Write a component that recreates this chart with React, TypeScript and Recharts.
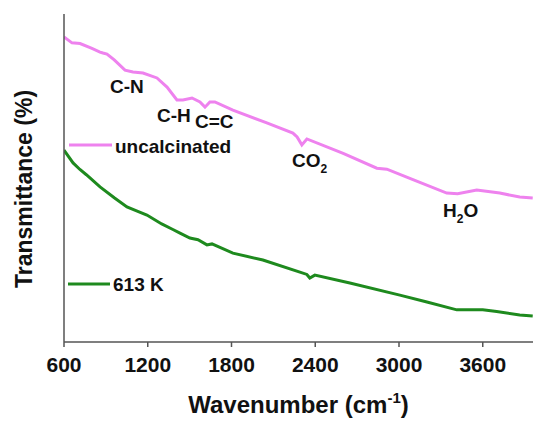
import { LineChart, Line, XAxis, YAxis } from "recharts"

// FTIR spectra, transmittance in arbitrary units (0-100 across the plot)
const uncalcinatedWavenumber = [
  600, 657, 715, 800, 858, 879, 908, 960, 1037, 1094, 1166, 1266, 1338, 1409, 1452, 1517, 1574,
  1610, 1645, 1681, 1810, 2053, 2240, 2270, 2304, 2340, 2600, 2841, 2913, 3100, 3342, 3420, 3557,
  3722, 3865, 3958,
]
const uncalcinatedT = [
  93.0, 91.2, 91.0, 89.5, 88.4, 88.1, 87.8, 86.0, 82.9, 82.3, 82.0, 80.5, 77.7, 73.8, 73.8, 74.4, 73.2,
  71.6, 73.2, 73.2, 70.7, 66.8, 63.7, 62.5, 60.1, 61.9, 57.5, 53.0, 52.7, 49.5, 45.4, 45.2, 46.3,
  45.4, 44.2, 43.9,
]

const calcinedWavenumber = [
  600, 665, 714, 760, 858, 960, 1051, 1120, 1194, 1300, 1380, 1431, 1502, 1560, 1624, 1660, 1810,
  2025, 2290, 2340, 2361, 2397, 2648, 3006, 3200, 3414, 3600, 3700, 3865, 3958,
]
const calcinedT = [
  58.5, 54.6, 52.6, 51.0, 47.3, 44.0, 41.2, 40.0, 38.7, 36.0, 34.3, 33.2, 31.7, 31.2, 29.6, 29.9, 27.1,
  25.0, 21.3, 20.6, 19.5, 20.4, 18.0, 14.3, 12.2, 9.8, 9.8, 9.3, 8.2, 7.9,
]

const xTicks = [600, 1200, 1800, 2400, 3000, 3600]

const PINK = "#ee82ee"
const GREEN = "#1e8a1e"
const FONT = '"Liberation Sans", Arial, sans-serif'

const uncalcinated = uncalcinatedWavenumber.map((w, i) => ({ w, t: uncalcinatedT[i] }))
const calcined = calcinedWavenumber.map((w, i) => ({ w, t: calcinedT[i] }))

const W = 533
const H = 423

function XTitle(props: any) {
  const vb = props.viewBox || {}
  const cx = vb.x + vb.width / 2
  return (
    <text x={cx} y={413} textAnchor="middle" fontFamily={FONT} fontWeight="bold" fontSize={24} fill="#111">
      Wavenumber (cm
      <tspan fontSize={15} dy={-10}>-1</tspan>
      <tspan dy={10}>)</tspan>
    </text>
  )
}

export default function App() {
  const txt = { fontFamily: FONT, fontWeight: "bold" as const, fill: "#111" }
  return (
    <div style={{ position: "absolute", left: 0, top: 0, width: W, height: H, background: "#fff" }}>
      <LineChart width={W} height={H} margin={{ top: 14, right: 0, bottom: 51, left: 63 }}>
        <XAxis
          dataKey="w"
          type="number"
          domain={[600, 3960]}
          ticks={xTicks}
          allowDataOverflow
          height={30}
          tickSize={5}
          tickMargin={10}
          axisLine={{ stroke: "#555", strokeWidth: 1.5 }}
          tickLine={{ stroke: "#555", strokeWidth: 1.5 }}
          tick={{ fontFamily: FONT, fontWeight: "bold", fontSize: 21, fill: "#111" }}
          label={<XTitle />}
        />
        <YAxis
          type="number"
          domain={[0, 100]}
          width={1}
          tick={false}
          tickLine={false}
          axisLine={{ stroke: "#555", strokeWidth: 1.5 }}
        />
        <Line
          data={uncalcinated}
          dataKey="t"
          type="linear"
          stroke={PINK}
          strokeWidth={3}
          dot={false}
          isAnimationActive={false}
        />
        <Line
          data={calcined}
          dataKey="t"
          type="linear"
          stroke={GREEN}
          strokeWidth={3}
          dot={false}
          isAnimationActive={false}
        />
      </LineChart>
      <svg width={W} height={H} style={{ position: "absolute", left: 0, top: 0, pointerEvents: "none" }}>
        <text {...txt} fontSize={23} textAnchor="middle" transform="translate(32,189) rotate(-90)">
          Transmittance (%)
        </text>
        {/* legend entries */}
        <line x1={69} x2={112} y1={145} y2={145} stroke={PINK} strokeWidth={3} />
        <text {...txt} fontSize={19} x={115} y={153}>uncalcinated</text>
        <line x1={68} x2={110} y1={284} y2={284} stroke={GREEN} strokeWidth={3} />
        <text {...txt} fontSize={19} x={113} y={291}>613 K</text>
        {/* band assignments */}
        <text {...txt} fontSize={19} x={110} y={93}>C-N</text>
        <text {...txt} fontSize={19} x={157} y={122}>C-H</text>
        <text {...txt} fontSize={19} x={195} y={128}>C=C</text>
        <text {...txt} fontSize={19} x={292} y={167}>
          CO<tspan fontSize={12} dy={6}>2</tspan>
        </text>
        <text {...txt} fontSize={19} x={443} y={217}>
          H<tspan fontSize={12} dy={6}>2</tspan>
          <tspan dy={-6}>O</tspan>
        </text>
      </svg>
    </div>
  )
}
